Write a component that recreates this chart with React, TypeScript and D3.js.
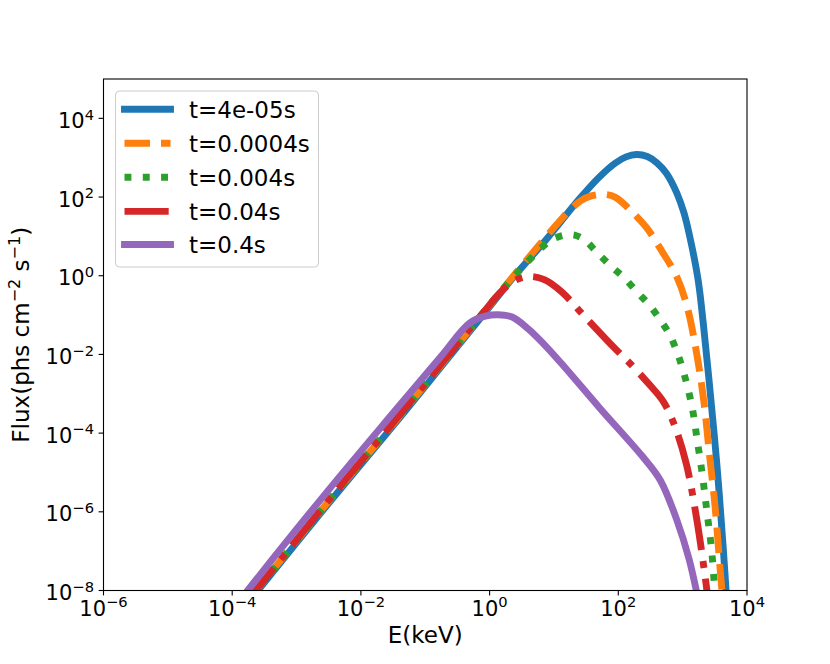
import React from 'react';
import * as d3 from 'd3';

// [E (keV), flux] pairs
const fluxT4e5: [number, number][] = [
  [1.91e-4, 5.75e-9], [3.55e-3, 2.09e-6], [3.98e-2, 2.4e-4], [0.316, 1.58e-2], [1, 0.162],
  [2.34, 0.912], [7.76, 8.71], [25.1, 91.2], [50.1, 316], [89.1, 724], [132, 1047],
  [191, 1202], [282, 1072], [398, 741], [562, 398], [813, 126], [1047, 39.8], [1288, 10],
  [1738, 0.794], [2089, 0.0631], [2570, 2.24e-3], [3388, 1.74e-5], [4266, 1.26e-7], [4898, 3.98e-9],
];
const fluxT4e4: [number, number][] = [
  [1.78e-4, 5.62e-9], [3.55e-3, 2.34e-6], [3.98e-2, 2.69e-4], [1, 0.178], [3.16, 1.78],
  [11.0, 20.0], [17.4, 45.7], [26.3, 81.3], [38.0, 107], [57.5, 117], [89.1, 100], [151, 47.9],
  [275, 16.6], [490, 3.89], [813, 0.933], [1175, 0.162], [1660, 0.01], [2138, 6.31e-4],
  [2630, 2.51e-5], [3162, 1.58e-6], [3802, 3.98e-8], [4266, 3.98e-9],
];
const fluxT4e3: [number, number][] = [
  [1.82e-4, 5.62e-9], [3.55e-3, 2.4e-6], [3.98e-2, 2.75e-4], [1, 0.182], [3.16, 1.58],
  [8.32, 7.41], [11.2, 9.55], [15.8, 11.0], [21.4, 10.7], [29.5, 8.32], [46.8, 3.89],
  [75.9, 1.78], [123, 0.891], [195, 0.389], [302, 0.182], [447, 0.0759], [631, 0.0316],
  [813, 0.0117], [1000, 4.27e-3], [1380, 5.25e-4], [1698, 6.03e-5], [2042, 7.76e-6],
  [2399, 9.33e-7], [2818, 1.07e-7], [3236, 5.01e-9],
];
const fluxT4e2: [number, number][] = [
  [1.66e-4, 5.01e-9], [3.55e-3, 2.51e-6], [3.98e-2, 2.88e-4], [0.316, 1.82e-2], [1, 0.182],
  [1.45, 0.372], [2.19, 0.676], [3.16, 0.891], [4.47, 0.955], [7.08, 0.794], [13.2, 0.389],
  [26.9, 0.112], [83.2, 0.0158], [170, 4.9e-3], [309, 1.66e-3], [501, 6.31e-4], [759, 1.48e-4],
  [1148, 1.58e-5], [1660, 6.31e-7], [2239, 2.19e-8], [2512, 5.01e-9],
];
const fluxT4e1: [number, number][] = [
  [1.26e-4, 5.01e-9], [1.74e-4, 1e-8], [2.57e-3, 2.4e-6], [3.16e-2, 3.24e-4], [0.174, 8.71e-3],
  [0.49, 0.0631], [0.891, 0.0955], [1.35, 0.102], [2.24, 0.0891], [3.98, 0.0447], [7.08, 0.0178],
  [12.6, 6.31e-3], [51.3, 4.37e-4], [240, 2.51e-5], [447, 6.46e-6], [813, 6.17e-7], [1259, 6.31e-8],
  [1778, 5.01e-9],
];

const labels = ['t=4e-05s', 't=0.0004s', 't=0.004s', 't=0.04s', 't=0.4s'];
const colors = ['#1f77b4', '#ff7f0e', '#2ca02c', '#d62728', '#9467bd'];
const xTickExps = [-6, -4, -2, 0, 2, 4];
const yTickExps = [-8, -6, -4, -2, 0, 2, 4];

const LW = 6.9;
const dashes = ['', '25.5 11', '6.9 11.4', '44.2 11 6.9 11', ''];
const series = [fluxT4e5, fluxT4e4, fluxT4e3, fluxT4e2, fluxT4e1];

const width = 830;
const height = 664;
const left = 103.5, right = 747, top = 79, bottom = 590.5;
const FONT = 'DejaVu Sans, sans-serif';
const FS = 21;
const SUP = 14.7;
const LABEL_FS = 23;

const Pow10: React.FC<{ exp: number; x: number; y: number; anchor: 'middle' | 'end' }> = ({ exp, x, y, anchor }) => (
  <text x={x} y={y} textAnchor={anchor} fontFamily={FONT} fontSize={FS} fill="#000">
    <tspan>10</tspan>
    <tspan dy={-8.3} fontSize={SUP}>{exp < 0 ? `\u2212${-exp}` : `${exp}`}</tspan>
  </text>
);

const App: React.FC = () => {
  const xScale = d3.scaleLog().domain([1e-6, 1e4]).range([left, right]);
  const yScale = d3.scaleLog().domain([1e-8, 1e5]).range([bottom, top]);

  const line = d3.line<[number, number]>()
    .x(d => xScale(d[0]))
    .y(d => yScale(d[1]))
    .curve(d3.curveCatmullRom.alpha(0.5));

  const legendRows = [109.3, 143.2, 177.2, 211.4, 244.5];

  return (
    <svg width={width} height={height} style={{ position: 'absolute', left: 0, top: 0, background: '#fff' }}>
      <defs>
        <clipPath id="plot-clip">
          <rect x={left} y={top} width={right - left} height={bottom - top} />
        </clipPath>
      </defs>

      <g clipPath="url(#plot-clip)">
        {series.map((s, i) => (
          <path
            key={labels[i]}
            d={line(s) || ''}
            fill="none"
            stroke={colors[i]}
            strokeWidth={LW}
            strokeDasharray={dashes[i] || undefined}
            strokeLinecap={dashes[i] ? 'butt' : 'square'}
            strokeLinejoin="round"
          />
        ))}
      </g>

      {/* axes frame */}
      <rect x={left} y={top} width={right - left} height={bottom - top} fill="none" stroke="#000" strokeWidth={1.1} />

      {/* x ticks */}
      {xTickExps.map(e => {
        const x = xScale(Math.pow(10, e));
        return (
          <g key={`x${e}`}>
            <line x1={x} x2={x} y1={bottom} y2={bottom + 4.9} stroke="#000" strokeWidth={1.1} />
            <Pow10 exp={e} x={x} y={615.7} anchor="middle" />
          </g>
        );
      })}

      {/* y ticks */}
      {yTickExps.map(e => {
        const y = yScale(Math.pow(10, e));
        return (
          <g key={`y${e}`}>
            <line x1={left - 4.9} x2={left} y1={y} y2={y} stroke="#000" strokeWidth={1.1} />
            <Pow10 exp={e} x={94} y={y + 9.6} anchor="end" />
          </g>
        );
      })}

      {/* axis labels */}
      <text x={(left + right) / 2} y={643.3} textAnchor="middle" fontFamily={FONT} fontSize={LABEL_FS}>E(keV)</text>
      <text transform={`translate(28.5, ${(top + bottom) / 2}) rotate(-90)`} textAnchor="middle" fontFamily={FONT} fontSize={LABEL_FS}>
        <tspan>Flux(phs cm</tspan>
        <tspan dy={-9} fontSize={16}>{'\u22122'}</tspan>
        <tspan dy={9}> s</tspan>
        <tspan dy={-9} fontSize={16}>{'\u22121'}</tspan>
        <tspan dy={9}>)</tspan>
      </text>

      {/* legend */}
      <rect x={115.5} y={91} width={203} height={176} rx={4} fill="#fff" fillOpacity={0.8} stroke="#cccccc" strokeWidth={1} />
      {labels.map((lab, i) => (
        <g key={lab}>
          <line
            x1={124.5}
            x2={170.5}
            y1={legendRows[i]}
            y2={legendRows[i]}
            stroke={colors[i]}
            strokeWidth={LW}
            strokeDasharray={dashes[i] || undefined}
            strokeLinecap={dashes[i] ? 'butt' : 'square'}
          />
          <text x={189} y={legendRows[i] + 8.5} fontFamily={FONT} fontSize={LABEL_FS}>{lab}</text>
        </g>
      ))}
    </svg>
  );
};

export default App;
